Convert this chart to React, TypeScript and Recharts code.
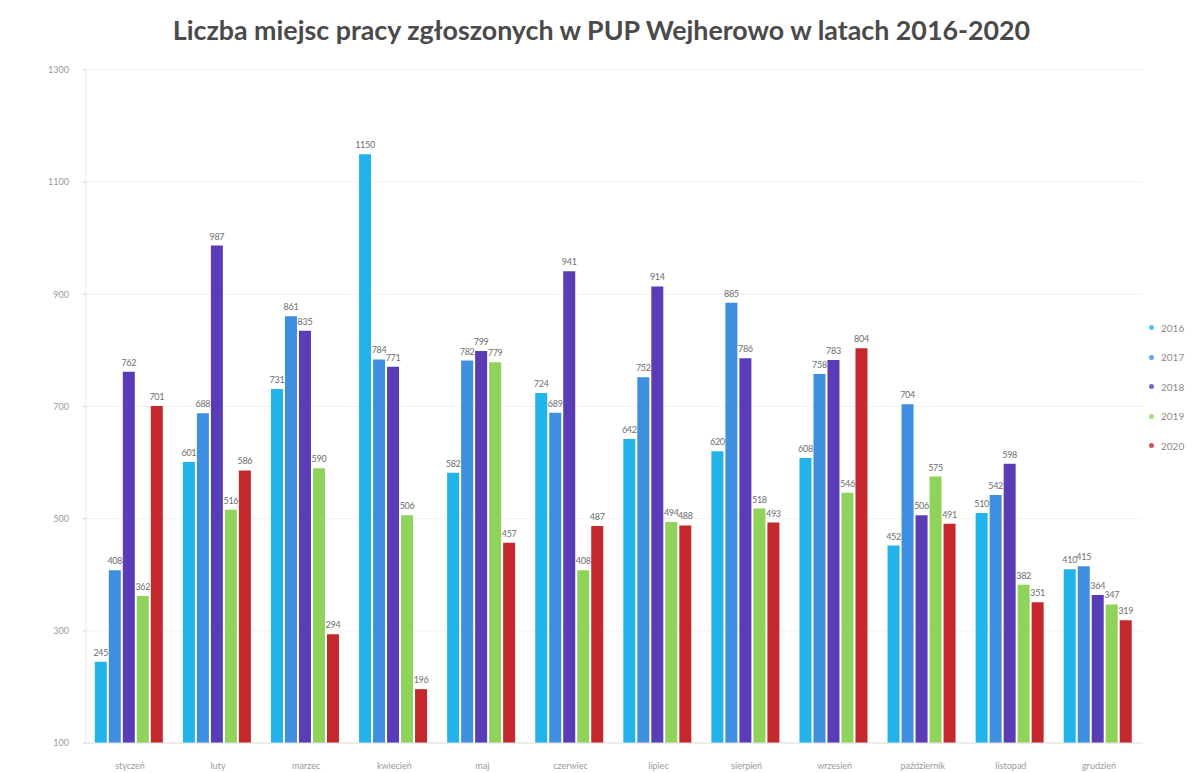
import React from 'react';
import {
  BarChart,
  Bar,
  XAxis,
  YAxis,
  CartesianGrid,
  LabelList,
} from 'recharts';

// Job offers reported to PUP Wejherowo, by month, 2016-2020.
const MONTHS = [
  'styczeń',
  'luty',
  'marzec',
  'kwiecień',
  'maj',
  'czerwiec',
  'lipiec',
  'sierpień',
  'wrzesień',
  'październik',
  'listopad',
  'grudzień',
];

const Y2016 = [245, 601, 731, 1150, 582, 724, 642, 620, 608, 452, 510, 410];
const Y2017 = [408, 688, 861, 784, 782, 689, 752, 885, 758, 704, 542, 415];
const Y2018 = [762, 987, 835, 771, 799, 941, 914, 786, 783, 506, 598, 364];
const Y2019 = [362, 516, 590, 506, 779, 408, 494, 518, 546, 575, 382, 347];
const Y2020 = [701, 586, 294, 196, 457, 487, 488, 493, 804, 491, 351, 319];

const Y_TICKS = [100, 300, 500, 700, 900, 1100, 1300];

const SERIES = [
  { key: 'y2016', name: '2016', values: Y2016, color: '#22b3ea' },
  { key: 'y2017', name: '2017', values: Y2017, color: '#3e8fe0' },
  { key: 'y2018', name: '2018', values: Y2018, color: '#5a3db6' },
  { key: 'y2019', name: '2019', values: Y2019, color: '#8fd35a' },
  { key: 'y2020', name: '2020', values: Y2020, color: '#c4282c' },
];

const data = MONTHS.map((m, i) => {
  const row: Record<string, string | number> = { month: m };
  SERIES.forEach((s) => {
    row[s.key] = s.values[i];
  });
  return row;
});

const FONT = 'Lato, "Open Sans", sans-serif';

// legend sits to the right of the plot, drawn outside recharts so it
// doesn't eat into the plot height
function SideLegend() {
  return (
    <div
      style={{
        position: 'absolute',
        left: 1149,
        top: 313,
        fontFamily: FONT,
        fontSize: 10,
        color: '#8a8a8a',
      }}
    >
      {SERIES.map((s) => (
        <div
          key={s.key}
          style={{ height: 29.5, display: 'flex', alignItems: 'center' }}
        >
          <span
            style={{
              display: 'inline-block',
              width: 5,
              height: 5,
              borderRadius: 3,
              background: s.color,
              marginRight: 7,
              opacity: 0.8,
            }}
          />
          {s.name}
        </div>
      ))}
    </div>
  );
}

export default function App() {
  return (
    <div
      style={{
        position: 'absolute',
        left: 0,
        top: 0,
        width: 1193,
        height: 773,
        background: '#fff',
        overflow: 'hidden',
      }}
    >
      <div
        style={{
          position: 'absolute',
          top: 14,
          left: 0,
          width: 1193,
          textAlign: 'center',
          paddingLeft: 10,
          boxSizing: 'border-box',
          fontFamily: FONT,
          fontWeight: 700,
          fontSize: 26.8,
          color: '#4a4a4a',
        }}
      >
        Liczba miejsc pracy zgłoszonych w PUP Wejherowo w latach 2016-2020
      </div>
      <BarChart
        width={1193}
        height={773}
        data={data}
        margin={{ top: 70, right: 50, bottom: 0, left: 0 }}
        barCategoryGap="10%"
        barGap={2}
      >
        <CartesianGrid vertical={false} stroke="#f2f2f2" />
        <XAxis
          dataKey="month"
          height={30}
          tick={{ fill: '#9a9a9a', fontSize: 9, fontFamily: FONT }}
          axisLine={{ stroke: '#e0e0e0' }}
          tickLine={false}
          tickMargin={14}
          interval={0}
        />
        <YAxis
          domain={[100, 1300]}
          ticks={Y_TICKS}
          width={86}
          tick={{ fill: '#9a9a9a', fontSize: 9, fontFamily: FONT }}
          axisLine={{ stroke: '#ececec' }}
          tickLine={{ stroke: '#d0d0d0' }}
          tickSize={3}
          tickMargin={14}
          allowDataOverflow
        />
        {SERIES.map((s) => (
          <Bar
            key={s.key}
            dataKey={s.key}
            name={s.name}
            fill={s.color}
            isAnimationActive={false}
          >
            <LabelList
              dataKey={s.key}
              position="top"
              offset={6}
              style={{
                fill: '#6e6e6e',
                fontSize: 9,
                fontFamily: FONT,
                letterSpacing: -0.3,
              }}
            />
          </Bar>
        ))}
      </BarChart>
      <SideLegend />
    </div>
  );
}
